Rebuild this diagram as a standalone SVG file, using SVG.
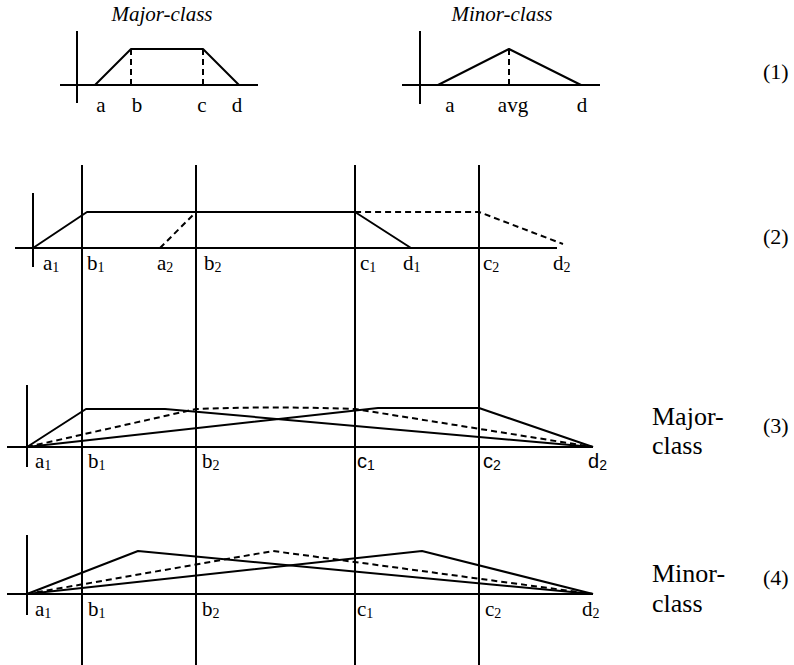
<svg xmlns="http://www.w3.org/2000/svg" width="794" height="665" viewBox="0 0 794 665">
<style>
.ln{stroke:#000;stroke-width:2;fill:none;stroke-linejoin:round}
.ds{stroke:#000;stroke-width:2;fill:none;stroke-dasharray:6,4}
text{fill:#000}
.t{font-size:21px}
.ts{font-size:20px}
.ti{font-size:21px;font-style:italic}
.big{font-size:26px}
.num{font-size:22px}
.sub{font-size:14px}
</style>
<rect width="794" height="665" fill="#fff"/>

<g id="panel1-major" font-family="'Liberation Serif', Tinos, 'DejaVu Serif', serif">
<text class="ti" x="162" y="21" text-anchor="middle">Major-class</text>
<line class="ln" x1="77" y1="31" x2="77" y2="103"/>
<line class="ln" x1="60" y1="85" x2="258" y2="85"/>
<polyline class="ln" points="95,85 131,49 203,49 239,85"/>
<line class="ds" x1="131" y1="49" x2="131" y2="85"/>
<line class="ds" x1="203" y1="49" x2="203" y2="85"/>
<text class="t" x="101" y="112" text-anchor="middle">a</text>
<text class="t" x="137" y="112" text-anchor="middle">b</text>
<text class="t" x="202" y="112" text-anchor="middle">c</text>
<text class="t" x="237" y="112" text-anchor="middle">d</text>
</g>

<g id="panel1-minor" font-family="'Liberation Serif', Tinos, 'DejaVu Serif', serif">
<text class="ti" x="502" y="21" text-anchor="middle">Minor-class</text>
<line class="ln" x1="420" y1="31" x2="420" y2="104"/>
<line class="ln" x1="402" y1="85" x2="600" y2="85"/>
<polyline class="ln" points="438,85 509,49 581,85"/>
<line class="ds" x1="509" y1="49" x2="509" y2="85"/>
<text class="t" x="450" y="112" text-anchor="middle">a</text>
<text class="t" x="513" y="112" text-anchor="middle">avg</text>
<text class="t" x="582" y="112" text-anchor="middle">d</text>
<text class="num" x="763" y="79">(1)</text>
</g>

<g id="guides">
<line class="ln" x1="82" y1="165" x2="82" y2="665"/>
<line class="ln" x1="196" y1="165" x2="196" y2="665"/>
<line class="ln" x1="355" y1="165" x2="355" y2="665"/>
<line class="ln" x1="479" y1="165" x2="479" y2="665"/>
</g>

<g id="panel2" font-family="'Liberation Serif', Tinos, 'DejaVu Serif', serif">
<line class="ln" x1="33" y1="193" x2="33" y2="267"/>
<line class="ln" x1="15" y1="248" x2="557" y2="248"/>
<polyline class="ln" points="33,248 87,212 355,212 411,248"/>
<polyline class="ds" points="160,248 196,212 479,212 563,244"/>
<text class="t" x="43" y="270">a<tspan class="sub" dy="2">1</tspan></text>
<text class="t" x="87" y="270">b<tspan class="sub" dy="2">1</tspan></text>
<text class="t" x="157" y="270">a<tspan class="sub" dy="2">2</tspan></text>
<text class="t" x="204" y="270">b<tspan class="sub" dy="2">2</tspan></text>
<text class="t" x="360" y="270">c<tspan class="sub" dy="2">1</tspan></text>
<text class="t" x="403" y="270">d<tspan class="sub" dy="2">1</tspan></text>
<text class="t" x="483" y="270">c<tspan class="sub" dy="2">2</tspan></text>
<text class="t" x="553" y="270">d<tspan class="sub" dy="2">2</tspan></text>
<text class="num" x="763" y="244">(2)</text>
</g>

<g id="panel3" font-family="'Liberation Serif', Tinos, 'DejaVu Serif', serif">
<line class="ln" x1="27" y1="385" x2="27" y2="467"/>
<line class="ln" x1="7" y1="447" x2="593" y2="447"/>
<polyline class="ln" points="27,447 86,409 165,409 593,447"/>
<polyline class="ln" points="27,447 378,408 479,408 593,447"/>
<path class="ds" d="M27,447 L196,409 Q275,406 355,409 L593,447"/>
<text class="t" x="35" y="468">a<tspan class="sub" dy="2">1</tspan></text>
<text class="t" x="88" y="468">b<tspan class="sub" dy="2">1</tspan></text>
<text class="t" x="202" y="468">b<tspan class="sub" dy="2">2</tspan></text>
<text class="ts" x="357" y="468" font-family="'Liberation Sans', Arimo, Arial, sans-serif">c<tspan class="sub" dy="2">1</tspan></text>
<text class="ts" x="483" y="468" font-family="'Liberation Sans', Arimo, Arial, sans-serif">c<tspan class="sub" dy="2">2</tspan></text>
<text class="ts" x="588" y="468" font-family="'Liberation Sans', Arimo, Arial, sans-serif">d<tspan class="sub" dy="2">2</tspan></text>
<text class="big" x="652" y="425">Major-</text>
<text class="big" x="652" y="454">class</text>
<text class="num" x="763" y="433">(3)</text>
</g>

<g id="panel4" font-family="'Liberation Serif', Tinos, 'DejaVu Serif', serif">
<line class="ln" x1="27" y1="535" x2="27" y2="615"/>
<line class="ln" x1="7" y1="594" x2="593" y2="594"/>
<polyline class="ln" points="27,594 138,551 593,594"/>
<polyline class="ln" points="27,594 422,551 593,594"/>
<polyline class="ds" points="27,594 273,551 593,594"/>
<text class="t" x="35" y="616">a<tspan class="sub" dy="2">1</tspan></text>
<text class="t" x="88" y="616">b<tspan class="sub" dy="2">1</tspan></text>
<text class="t" x="202" y="616">b<tspan class="sub" dy="2">2</tspan></text>
<text class="t" x="357" y="616">c<tspan class="sub" dy="2">1</tspan></text>
<text class="t" x="485" y="616">c<tspan class="sub" dy="2">2</tspan></text>
<text class="t" x="582" y="616">d<tspan class="sub" dy="2">2</tspan></text>
<text class="big" x="652" y="582">Minor-</text>
<text class="big" x="652" y="612">class</text>
<text class="num" x="763" y="585">(4)</text>
</g>
</svg>
